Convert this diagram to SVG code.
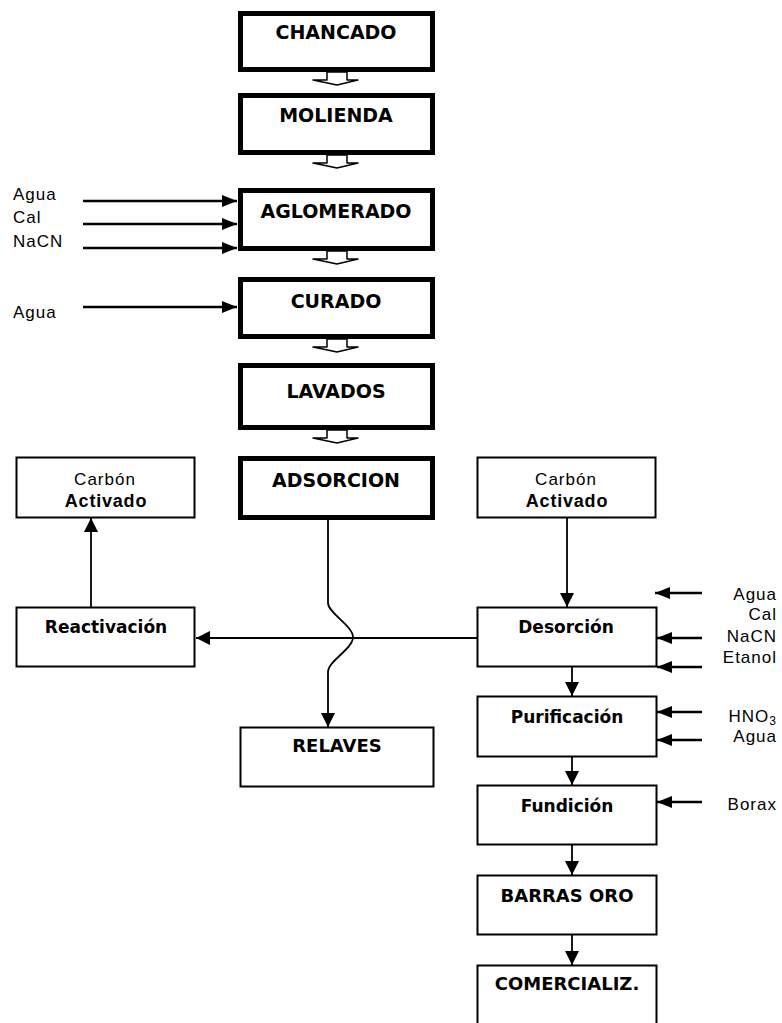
<svg xmlns="http://www.w3.org/2000/svg" width="782" height="1023" viewBox="0 0 782 1023">
  <style>
    .thick { fill: #fff; stroke: #000; stroke-width: 5; }
    .box { fill: #fff; stroke: #000; stroke-width: 2; }
    .title { font-family: "DejaVu Sans", Verdana, sans-serif; font-weight: bold; font-size: 19px; text-anchor: middle; fill: #000; }
    .name { font-family: "DejaVu Sans", Verdana, sans-serif; font-weight: bold; font-size: 17px; text-anchor: middle; fill: #000; }
    .name18 { font-family: "DejaVu Sans", Verdana, sans-serif; font-weight: bold; font-size: 18px; text-anchor: middle; fill: #000; }
    .reg { font-family: "Liberation Sans", Arial, sans-serif; font-size: 17px; letter-spacing: 1px; fill: #000; }
    .regc { font-family: "Liberation Sans", Arial, sans-serif; font-size: 17px; letter-spacing: 1px; text-anchor: middle; fill: #000; }
    .boldc { font-family: "Liberation Sans", Arial, sans-serif; font-weight: bold; font-size: 18px; letter-spacing: 0.8px; text-anchor: middle; fill: #000; }
    .rlab { font-family: "Liberation Sans", Arial, sans-serif; font-size: 17px; letter-spacing: 1px; text-anchor: end; fill: #000; }
    .flow { fill: #fff; stroke: #000; stroke-width: 1.5; stroke-linejoin: round; }
    .conn { fill: none; stroke: #000; stroke-width: 1.8; }
    .input { fill: none; stroke: #000; stroke-width: 2.5; }
  </style>
  <defs>
    <marker id="head" markerUnits="userSpaceOnUse" markerWidth="14" markerHeight="14" refX="14" refY="7" orient="auto">
      <path d="M0,0 L14,7 L0,14 z" fill="#000"/>
    </marker>
    <marker id="inhead" markerUnits="userSpaceOnUse" markerWidth="15" markerHeight="12" refX="15" refY="6" orient="auto">
      <path d="M0,0 L15,6 L0,12 z" fill="#000"/>
    </marker>
    <!-- hollow block arrow between the main stages, drawn at origin of box bottom -->
    <path id="block" class="flow" d="M327,0 V8 H313 L337,13 L358,8 H347 V0 z"/>
  </defs>

  <!-- main heap-leach line -->
  <g id="chancado"><rect class="thick" x="240.5" y="13.5" width="192" height="56"/><text class="title" x="336" y="39">CHANCADO</text></g>
  <g id="molienda"><rect class="thick" x="240.5" y="95.5" width="192" height="57"/><text class="title" x="336" y="122">MOLIENDA</text></g>
  <g id="aglomerado"><rect class="thick" x="240.5" y="190.5" width="192" height="58"/><text class="title" x="336" y="218">AGLOMERADO</text></g>
  <g id="curado"><rect class="thick" x="240.5" y="279.5" width="192" height="57"/><text class="title" x="336" y="308">CURADO</text></g>
  <g id="lavados"><rect class="thick" x="240.5" y="365.5" width="192" height="62"/><text class="title" x="336" y="398">LAVADOS</text></g>
  <g id="adsorcion"><rect class="thick" x="240.5" y="458.5" width="192" height="59"/><text class="title" x="336" y="487">ADSORCION</text></g>

  <!-- carbon loop -->
  <g id="carbon-out"><rect class="box" x="16.5" y="457.5" width="178" height="60"/><text class="regc" x="105" y="485">Carbón</text><text class="boldc" x="106" y="507">Activado</text></g>
  <g id="reactivacion"><rect class="box" x="16.5" y="607.5" width="178" height="59"/><text class="name" x="106" y="633">Reactivación</text></g>
  <g id="relaves"><rect class="box" x="240.5" y="727.5" width="193" height="59"/><text class="name18" x="337" y="752">RELAVES</text></g>
  <g id="carbon-in"><rect class="box" x="477.5" y="457.5" width="178" height="60"/><text class="regc" x="566" y="485">Carbón</text><text class="boldc" x="567" y="507">Activado</text></g>
  <g id="desorcion"><rect class="box" x="477.5" y="607.5" width="179" height="59"/><text class="name" x="566" y="633">Desorción</text></g>
  <g id="purificacion"><rect class="box" x="477.5" y="696.5" width="179" height="60"/><text class="name" x="567" y="723">Purificación</text></g>
  <g id="fundicion"><rect class="box" x="477.5" y="785.5" width="179" height="59"/><text class="name" x="567" y="812">Fundición</text></g>
  <g id="barras-oro"><rect class="box" x="477.5" y="875.5" width="179" height="59"/><text class="name18" x="567" y="902">BARRAS ORO</text></g>
  <g id="comercializ"><rect class="box" x="477.5" y="965.5" width="179" height="70"/><text class="name18" x="567" y="990">COMERCIALIZ.</text></g>

  <!-- reagent labels -->
  <g id="labels-left">
    <text class="reg" x="13" y="200">Agua</text>
    <text class="reg" x="13" y="223">Cal</text>
    <text class="reg" x="13" y="247">NaCN</text>
    <text class="reg" x="13" y="318">Agua</text>
  </g>
  <g id="labels-right">
    <text class="rlab" x="777" y="600">Agua</text>
    <text class="rlab" x="777" y="620">Cal</text>
    <text class="rlab" x="777" y="642">NaCN</text>
    <text class="rlab" x="777" y="663">Etanol</text>
    <text class="rlab" x="777" y="722">HNO<tspan font-size="12" dy="3">3</tspan></text>
    <text class="rlab" x="777" y="742">Agua</text>
    <text class="rlab" x="777" y="810">Borax</text>
  </g>

  <g id="connectors">
    <!-- stage to stage block arrows -->
    <use href="#block" transform="translate(0,72)"/>
    <use href="#block" transform="translate(0,155)"/>
    <use href="#block" transform="translate(0,251)"/>
    <use href="#block" transform="translate(0,339)"/>
    <use href="#block" transform="translate(0,430)"/>
    <!-- reagent feeds, left -->
    <line class="input" x1="83" y1="201" x2="237" y2="201" marker-end="url(#inhead)"/>
    <line class="input" x1="83" y1="224" x2="237" y2="224" marker-end="url(#inhead)"/>
    <line class="input" x1="83" y1="248" x2="237" y2="248" marker-end="url(#inhead)"/>
    <line class="input" x1="83" y1="307" x2="237" y2="307" marker-end="url(#inhead)"/>
    <!-- reagent feeds, right -->
    <line class="input" x1="702" y1="593" x2="655" y2="593" marker-end="url(#inhead)"/>
    <line class="input" x1="702" y1="638" x2="657" y2="638" marker-end="url(#inhead)"/>
    <line class="input" x1="702" y1="667" x2="657" y2="667" marker-end="url(#inhead)"/>
    <line class="input" x1="702" y1="712" x2="657" y2="712" marker-end="url(#inhead)"/>
    <line class="input" x1="702" y1="740" x2="657" y2="740" marker-end="url(#inhead)"/>
    <line class="input" x1="702" y1="802" x2="657" y2="802" marker-end="url(#inhead)"/>
    <!-- tailings, hopping over the carbon return line -->
    <path class="conn" d="M328,520 V603 C328,613 353,626 353,637 C353,649 328,661 328,672 V727" marker-end="url(#head)"/>
    <!-- carbon circuit -->
    <line class="conn" x1="477" y1="638" x2="196" y2="638" marker-end="url(#head)"/>
    <line class="conn" x1="91" y1="607" x2="91" y2="518" marker-end="url(#head)"/>
    <line class="conn" x1="567" y1="517" x2="567" y2="607" marker-end="url(#head)"/>
    <line class="conn" x1="572" y1="667" x2="572" y2="696" marker-end="url(#head)"/>
    <line class="conn" x1="572" y1="757" x2="572" y2="785" marker-end="url(#head)"/>
    <line class="conn" x1="572" y1="845" x2="572" y2="875" marker-end="url(#head)"/>
    <line class="conn" x1="572" y1="935" x2="572" y2="965" marker-end="url(#head)"/>
  </g>
</svg>
